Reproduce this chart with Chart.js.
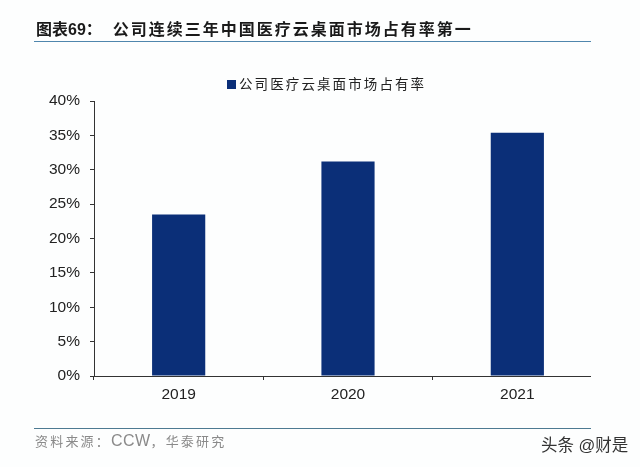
<!DOCTYPE html>
<html lang="zh-CN">
<head>
    <meta charset="UTF-8">
    <title>图表69</title>
    <script src="https://cdn.jsdelivr.net/npm/chart.js"></script>
    <style>
        html, body { margin: 0; padding: 0; background: #fdfefe; }
        #wrap { position: relative; width: 640px; height: 467px; overflow: hidden; }
        /* the original picture cuts the axis off before the last category ends */
        canvas { position: absolute; left: 0; top: 0; clip-path: inset(0 49px 0 0); }
        .txt { position: absolute; white-space: nowrap; font-family: "Liberation Sans", "Noto Sans CJK SC", sans-serif; }
        .rule { position: absolute; left: 34px; width: 557px; height: 1px; }
        #title { left: 36px; top: 19px; font-size: 16px; line-height: 22px; font-weight: 700; color: #1a1a1a; }
        #title span { margin-left: 11px; letter-spacing: 2px; }
        #legend { left: 227px; top: 76px; font-size: 13.5px; line-height: 18px; color: #222; letter-spacing: 2.1px; }
        #legend i { position: absolute; left: 0; top: 4px; width: 9px; height: 9px; background: #0b2f78; }
        #legend b { font-weight: 400; margin-left: 12px; }
        #source { left: 35px; top: 431px; font-size: 13px; line-height: 19px; color: #8a8a8a; letter-spacing: 2.2px; }
        #source em { font-style: normal; font-size: 16px; letter-spacing: 0.4px; }
        #mark { left: 541px; top: 434px; font-size: 16.5px; line-height: 22px; color: #333; }
    </style>
</head>
<body>
<div id="wrap">
    <canvas id="chart" width="640" height="467"></canvas>
    <div class="txt" id="title">图表69：<span>公司连续三年中国医疗云桌面市场占有率第一</span></div>
    <div class="rule" style="top:41px;background:#4f86ad"></div>
    <div class="txt" id="legend"><i></i><b id="legendText"></b></div>
    <div class="rule" style="top:428px;background:#4d7a92"></div>
    <div class="txt" id="source">资料来源：<em>CCW</em>，华泰研究</div>
    <div class="txt" id="mark">头条 @财是</div>
</div>
<script>
    const years = ['2019', '2020', '2021'];
    const shareValues = [23.5, 31.2, 35.4];
    const seriesName = '公司医疗云桌面市场占有率';
    const yTicks = [0, 5, 10, 15, 20, 25, 30, 35, 40];

    document.getElementById('legendText').textContent = seriesName;

    new Chart(document.getElementById('chart').getContext('2d'), {
        type: 'bar',
        data: {
            labels: years,
            datasets: [{
                label: seriesName,
                data: shareValues,
                backgroundColor: '#0b2f78',
                categoryPercentage: 1,
                barPercentage: 0.314
            }]
        },
        options: {
            responsive: false,
            animation: false,
            layout: { padding: { left: 0, right: 38, top: 101, bottom: 0 } },
            plugins: {
                tooltip: { enabled: false },
                legend: { display: false }
            },
            scales: {
                x: {
                    afterFit: axis => { axis.height = 91; },
                    border: { color: '#333', width: 1 },
                    grid: { drawOnChartArea: false, color: '#333', tickLength: 4 },
                    ticks: { color: '#222', padding: 5, font: { family: 'Liberation Sans', size: 15.5 } }
                },
                y: {
                    min: 0,
                    max: 40,
                    afterFit: axis => { axis.width = 94; },
                    afterBuildTicks: axis => { axis.ticks = yTicks.map(v => ({ value: v })); },
                    border: { color: '#333', width: 1 },
                    grid: { drawOnChartArea: false, color: '#333', tickLength: 4 },
                    ticks: {
                        color: '#222',
                        padding: 10,
                        font: { family: 'Liberation Sans', size: 15.5 },
                        callback: v => v + '%'
                    }
                }
            }
        }
    });
</script>
</body>
</html>
